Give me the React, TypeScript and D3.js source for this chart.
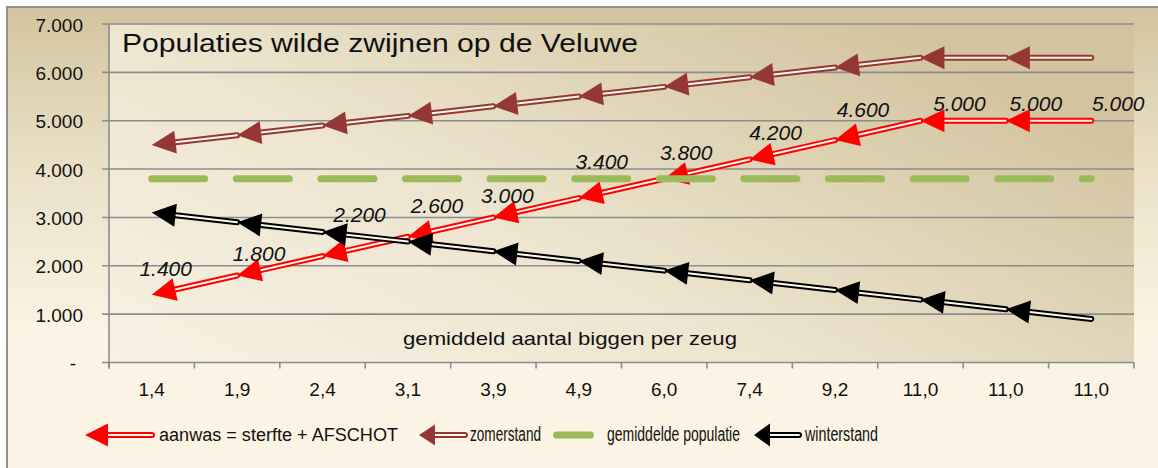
import { useEffect, useRef } from 'react'
import * as d3 from 'd3'

// chart data
const categories = ['1,4', '1,9', '2,4', '3,1', '3,9', '4,9', '6,0', '7,4', '9,2', '11,0', '11,0', '11,0']
const aanwas = [1400, 1800, 2200, 2600, 3000, 3400, 3800, 4200, 4600, 5000, 5000, 5000]
const zomerstand = [4500, 4700, 4900, 5100, 5300, 5500, 5700, 5900, 6100, 6300, 6300, 6300]
const gemiddelde = [3800, 3800, 3800, 3800, 3800, 3800, 3800, 3800, 3800, 3800, 3800, 3800]
const winterstand = [3100, 2900, 2700, 2500, 2300, 2100, 1900, 1700, 1500, 1300, 1100, 900]
const yTicks = [0, 1000, 2000, 3000, 4000, 5000, 6000, 7000]

// hand-dragged data label nudges (dx, dy from the point)
const labelNudge = [[14, -19], [22, -14], [37, -34], [29, -24], [14, -14], [23, -29], [22, -19], [26, -19], [28, -23], [39, -10], [30, -10], [27, -10]]

const W = 1158
const H = 468
const plot = { left: 109, right: 1134, top: 24, bottom: 362.5 }
const FONT = '"Liberation Sans", Arial, sans-serif'
const GRID = '#8c8c8c'
const AL = 24 // arrow length
const AW = 23 // arrow width

export default function App() {
  const svgRef = useRef<SVGSVGElement>(null)

  useEffect(() => {
    document.body.style.margin = '0'
    if (!svgRef.current) return
    const svg = d3.select(svgRef.current)
    svg.selectAll('*').remove()

    const defs = svg.append('defs')
    const bg = defs.append('linearGradient').attr('id', 'chartBg')
      .attr('gradientUnits', 'userSpaceOnUse').attr('x1', 0).attr('y1', 0).attr('x2', 0).attr('y2', 330)
    bg.append('stop').attr('offset', 0).attr('stop-color', '#d2c39d')
    bg.append('stop').attr('offset', 0.5).attr('stop-color', '#e9e0c6')
    bg.append('stop').attr('offset', 1).attr('stop-color', '#fbf3e3')

    const pg = defs.append('linearGradient').attr('id', 'plotBg')
      .attr('x1', 0).attr('y1', 1).attr('x2', 1).attr('y2', 0.35)
    pg.append('stop').attr('offset', 0).attr('stop-color', '#f7f1e2')
    pg.append('stop').attr('offset', 0.45).attr('stop-color', '#ede5cf')
    pg.append('stop').attr('offset', 1).attr('stop-color', '#d3c49f')

    // chart area
    svg.append('rect').attr('width', W).attr('height', H).attr('fill', '#fff')
    svg.append('rect').attr('x', 7).attr('y', 7).attr('width', W).attr('height', H).attr('fill', 'url(#chartBg)')
    svg.append('path').attr('d', `M7,${H} V7 H${W}`).attr('fill', 'none').attr('stroke', '#8e8e8e').attr('stroke-width', 2)

    svg.append('rect')
      .attr('x', plot.left).attr('y', plot.top)
      .attr('width', plot.right - plot.left).attr('height', plot.bottom - plot.top)
      .attr('fill', 'url(#plotBg)')

    const x = d3.scaleBand<number>().domain(d3.range(categories.length)).range([plot.left, plot.right])
    const cx = (i: number) => (x(i) as number) + x.bandwidth() / 2
    const y = d3.scaleLinear().domain([0, 7000]).range([plot.bottom, plot.top])
    const fmt = (v: number) => d3.format(',')(v).replace(/,/g, '.')

    // gridlines + y axis
    yTicks.forEach(t => {
      svg.append('line')
        .attr('x1', plot.left - 7).attr('x2', plot.right)
        .attr('y1', y(t)).attr('y2', y(t))
        .attr('stroke', GRID).attr('stroke-width', 1.6)
      svg.append('text')
        .attr('x', t === 0 ? 76 : 83).attr('y', y(t) + 7.5)
        .attr('text-anchor', 'end')
        .attr('font-family', FONT).attr('font-size', 19).attr('fill', '#111')
        .text(t === 0 ? '-' : fmt(t))
    })
    svg.append('line')
      .attr('x1', plot.left).attr('x2', plot.left)
      .attr('y1', plot.top).attr('y2', plot.bottom + 6)
      .attr('stroke', GRID).attr('stroke-width', 1.6)

    // x ticks + labels
    d3.range(categories.length + 1).forEach(i => {
      const xx = i < categories.length ? (x(i) as number) : plot.right
      svg.append('line')
        .attr('x1', xx).attr('x2', xx)
        .attr('y1', plot.bottom).attr('y2', plot.bottom + 6)
        .attr('stroke', GRID).attr('stroke-width', 1.6)
    })
    categories.forEach((c, i) => {
      svg.append('text')
        .attr('x', cx(i)).attr('y', 396)
        .attr('text-anchor', 'middle')
        .attr('font-family', FONT).attr('font-size', 19).attr('fill', '#111')
        .text(c)
    })

    // titles
    svg.append('text')
      .attr('x', 122).attr('y', 52)
      .attr('font-family', FONT).attr('font-size', 26).attr('fill', '#111')
      .attr('textLength', 516).attr('lengthAdjust', 'spacingAndGlyphs')
      .text('Populaties wilde zwijnen op de Veluwe')
    svg.append('text')
      .attr('x', 403).attr('y', 345)
      .attr('font-family', FONT).attr('font-size', 19).attr('fill', '#111')
      .attr('textLength', 334).attr('lengthAdjust', 'spacingAndGlyphs')
      .text('gemiddeld aantal biggen per zeug')

    // double line with a left-pointing arrow head at its start
    const arrowLine = (g: any, x0: number, y0: number, x1: number, y1: number, color: string, al = AL, aw = AW) => {
      const dx = x0 - x1
      const dy = y0 - y1
      const len = Math.hypot(dx, dy)
      const ux = dx / len
      const uy = dy / len
      const nx = -uy
      const ny = ux
      const bx = x0 - ux * al
      const by = y0 - uy * al
      g.append('line').attr('x1', bx).attr('y1', by).attr('x2', x1).attr('y2', y1)
        .attr('stroke', color).attr('stroke-width', 6).attr('stroke-linecap', 'round')
      g.append('line').attr('x1', bx).attr('y1', by).attr('x2', x1).attr('y2', y1)
        .attr('stroke', '#fdf8ee').attr('stroke-width', 2).attr('stroke-linecap', 'round')
      g.append('path')
        .attr('d', `M${x0},${y0} L${bx + nx * aw / 2},${by + ny * aw / 2} L${bx - nx * aw / 2},${by - ny * aw / 2} Z`)
        .attr('fill', color)
    }

    const drawSeries = (values: number[], color: string) => {
      const g = svg.append('g')
      for (let i = 0; i < values.length - 1; i++) {
        arrowLine(g, cx(i), y(values[i]), cx(i + 1), y(values[i + 1]), color)
      }
    }

    drawSeries(aanwas, '#ff0000')
    drawSeries(zomerstand, '#953735')

    svg.append('path')
      .datum(gemiddelde)
      .attr('d', d3.line<number>().x((_, i) => cx(i)).y(d => y(d)))
      .attr('fill', 'none').attr('stroke', '#9bbb59').attr('stroke-width', 7)
      .attr('stroke-linecap', 'round').attr('stroke-dasharray', '53 31.6')

    drawSeries(winterstand, '#000000')

    // data labels for aanwas
    aanwas.forEach((v, i) => {
      svg.append('text')
        .attr('x', cx(i) + labelNudge[i][0]).attr('y', y(v) + labelNudge[i][1])
        .attr('text-anchor', 'middle')
        .attr('font-family', FONT).attr('font-size', 21).attr('font-style', 'italic').attr('fill', '#111')
        .text(fmt(v))
    })

    // legend
    const ly = 435
    const lg = svg.append('g')
    arrowLine(lg, 85, ly, 152, ly, '#ff0000', 23, 23)
    arrowLine(lg, 419, ly, 465, ly, '#953735', 16, 21)
    lg.append('line').attr('x1', 556.5).attr('x2', 590.5).attr('y1', ly).attr('y2', ly)
      .attr('stroke', '#9bbb59').attr('stroke-width', 7).attr('stroke-linecap', 'round')
    arrowLine(lg, 754, ly, 799, ly, '#000000', 16, 23)
    const legendText = [
      { label: 'aanwas = sterfte + AFSCHOT', x: 159, w: 239, size: 18 },
      { label: 'zomerstand', x: 470, w: 71, size: 19.5 },
      { label: 'gemiddelde populatie', x: 607, w: 133, size: 19.5 },
      { label: 'winterstand', x: 805, w: 73, size: 19.5 },
    ]
    legendText.forEach(d => {
      lg.append('text')
        .attr('x', d.x).attr('y', 441)
        .attr('font-family', FONT).attr('font-size', d.size).attr('fill', '#111')
        .attr('textLength', d.w).attr('lengthAdjust', 'spacingAndGlyphs')
        .text(d.label)
    })
  }, [])

  return <svg ref={svgRef} width={W} height={H} style={{ display: 'block' }} />
}
